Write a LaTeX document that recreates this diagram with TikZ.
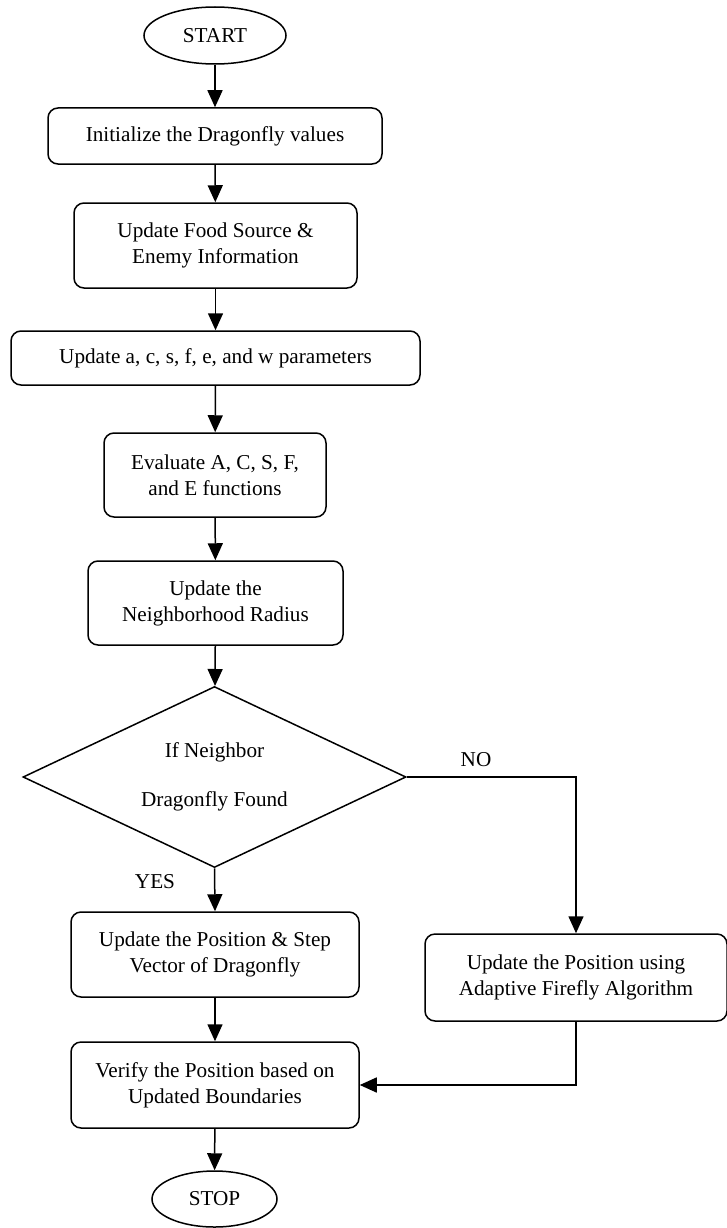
\documentclass[tikz,border=0pt]{standalone}
\usepackage{fontspec}
\setmainfont{Liberation Serif}
\usetikzlibrary{shapes.geometric}
\usetikzlibrary{arrows.meta}
\begin{document}
\begin{tikzpicture}[x=1pt,y=-1pt,font=\fontsize{21.2pt}{26pt}\selectfont,
                    tm/.style={draw,ellipse,line width=1.5pt,inner sep=0pt},
                    pb/.style={draw,rounded corners=10pt,line width=1.5pt,align=center,inner sep=0pt},
                    dc/.style={draw,diamond,aspect=2.1,line width=1.5pt,align=center,inner sep=0pt},
                    ar/.style={line width=1.5pt,-{Triangle[length=17pt,width=15pt]}}]
                \useasboundingbox (0,0) rectangle (727,1228);
                \node[tm,minimum width=142pt,minimum height=57pt] (start) at (215,35.5) {START};
                \node[pb,minimum width=334pt,minimum height=56pt] (init) at (215,136) {Initialize the Dragonfly values};
                \node[pb,minimum width=283pt,minimum height=85pt] (food) at (215.5,245.5) {Update Food Source \&\\Enemy Information};
                \node[pb,minimum width=409pt,minimum height=54pt] (param) at (215.5,358) {Update a, c, s, f, e, and w parameters};
                \node[pb,minimum width=222pt,minimum height=84pt] (eval) at (215,475) {Evaluate A, C, S, F,\\and E functions};
                \node[pb,minimum width=255pt,minimum height=84pt] (radius) at (215.5,603) {Update the\\Neighborhood Radius};
                \node[dc,minimum width=383pt,minimum height=181pt] (found) at (214.5,777) {If Neighbor\\[23pt]Dragonfly Found};
                \node[pb,minimum width=288pt,minimum height=85pt] (step) at (215,954.5) {Update the Position \& Step\\Vector of Dragonfly};
                \node[pb,minimum width=302pt,minimum height=87pt] (firefly) at (576,977.5) {Update the Position using\\Adaptive Firefly Algorithm};
                \node[pb,minimum width=288pt,minimum height=86pt] (verify) at (215,1085) {Verify the Position based on\\Updated Boundaries};
                \node[tm,minimum width=125pt,minimum height=56pt] (stop) at (214.5,1199) {STOP};
                \node (yes) at (155,882) {YES};
                \node (no) at (476,760) {NO};
                \draw[ar] (start) -- (init);
                \draw[ar] (init) -- (food);
                \draw[ar] (food) -- (param);
                \draw[ar] (param) -- (eval);
                \draw[ar] (eval) -- (radius);
                \draw[ar] (radius) -- (found);
                \draw[ar] (found.south) -- (step.north);
                \draw[ar] (found.east) -| (firefly.north);
                \draw[ar] (step) -- (verify);
                \draw[ar] (firefly.south) |- (verify.east);
                \draw[ar] (verify) -- (stop);
\end{tikzpicture}
\end{document}
